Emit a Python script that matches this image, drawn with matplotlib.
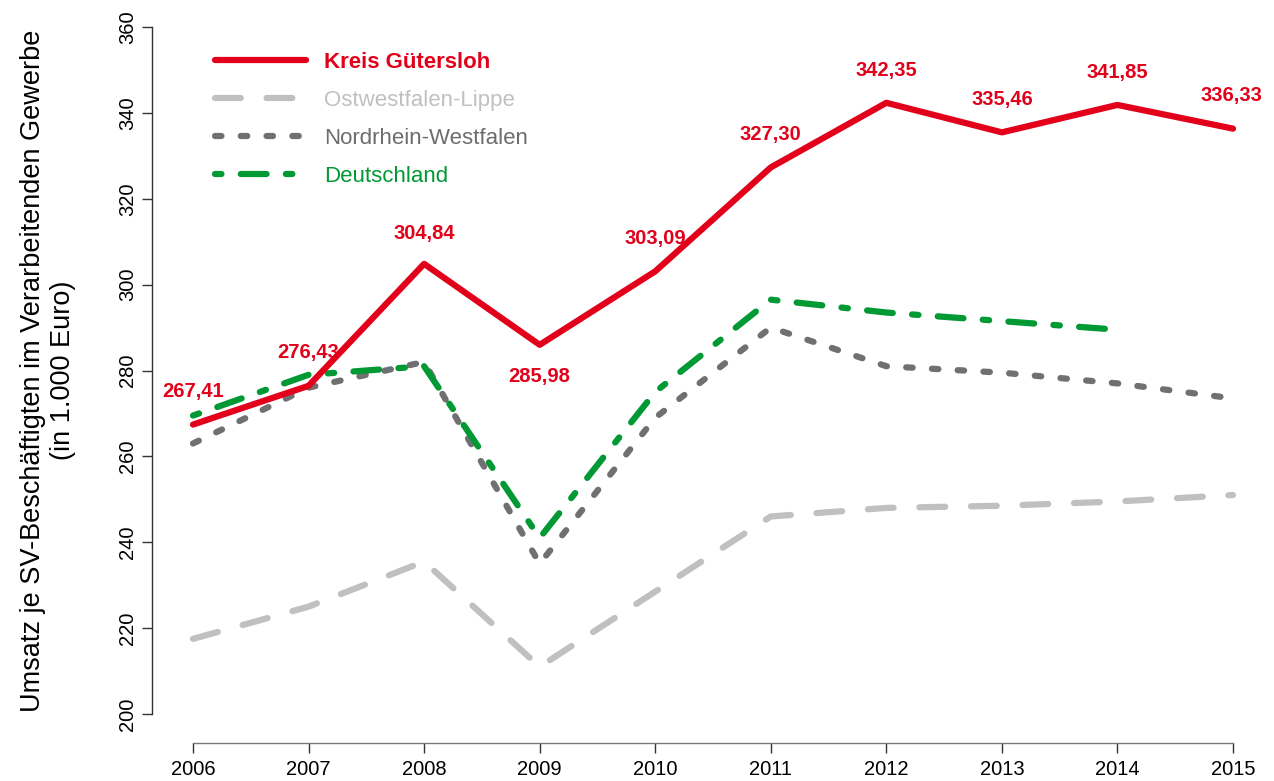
import matplotlib
matplotlib.use("Agg")
import matplotlib.pyplot as plt

plt.rcParams['font.family'] = ['Liberation Sans', 'DejaVu Sans']
plt.rcParams['lines.scale_dashes'] = False

years = [2006, 2007, 2008, 2009, 2010, 2011, 2012, 2013, 2014, 2015]
kreis_guetersloh = [267.41, 276.43, 304.84, 285.98, 303.09, 327.30, 342.35, 335.46, 341.85, 336.33]
ostwestfalen_lippe = [217.5, 225.0, 235.5, 211.0, 228.5, 246.0, 248.0, 248.5, 249.5, 251.0]
nordrhein_westfalen = [263.0, 276.0, 282.0, 235.0, 269.0, 290.0, 281.0, 279.5, 277.0, 273.5]
de_years = [2006, 2007, 2008, 2009, 2010, 2011, 2012, 2013, 2014]
deutschland = [269.5, 279.0, 281.0, 241.0, 275.0, 296.5, 293.5, 291.5, 289.5]
label_texts = ["267,41", "276,43", "304,84", "285,98", "303,09", "327,30", "342,35", "335,46", "341,85", "336,33"]
yticks = [200, 220, 240, 260, 280, 300, 320, 340, 360]

RED = "#E2001A"
LGREY = "#C0C0C0"
DGREY = "#707070"
GREEN = "#009933"

W, H = 1274, 781
fig = plt.figure(figsize=(W / 100, H / 100), dpi=100)
x0, x1 = 193, 1233
y0, y1 = 714, 27
ax = fig.add_axes([x0 / W, (H - y0) / H, (x1 - x0) / W, (y0 - y1) / H])
ax.set_xlim(2006, 2015)
ax.set_ylim(200, 360)

lw = 4.5
u = 4.64
l1, = ax.plot(years, kreis_guetersloh, color=RED, lw=lw, solid_capstyle='round',
              solid_joinstyle='round', clip_on=False, zorder=5)
l2, = ax.plot(years, ostwestfalen_lippe, color=LGREY, lw=lw, dashes=(4 * u, 4 * u),
              dash_capstyle='round', clip_on=False)
l3, = ax.plot(years, nordrhein_westfalen, color=DGREY, lw=lw, dashes=(u, 3 * u),
              dash_capstyle='round', clip_on=False)
l4, = ax.plot(de_years, deutschland, color=GREEN, lw=lw, dashes=(u, 3 * u, 4 * u, 3 * u),
              dash_capstyle='round', clip_on=False)

# value labels
offsets = [(0, 24), (0, 24), (0, 22), (0, -23), (0, 24), (0, 24), (0, 23), (0, 24), (0, 23), (-1, 24)]
for x, y, t, (dx, dy) in zip(years, kreis_guetersloh, label_texts, offsets):
    ax.annotate(t, (x, y), xytext=(dx, dy), textcoords='offset points', ha='center',
                va='center', color=RED, fontsize=14.5, fontweight='bold', annotation_clip=False)

for s in ['top', 'right']:
    ax.spines[s].set_visible(False)
ax.spines['left'].set_position(('outward', 41 * 0.72))
ax.spines['bottom'].set_position(('outward', 29 * 0.72))
ax.spines['left'].set_bounds(200, 360)
ax.spines['bottom'].set_bounds(2006, 2015)
ax.spines['left'].set_color('#333333')
ax.spines['bottom'].set_color('#777777')
ax.spines['left'].set_linewidth(1.0)
ax.spines['bottom'].set_linewidth(1.0)

ax.set_xticks(years)
ax.set_xticklabels([str(y) for y in years])
ax.set_yticks(yticks)
ax.set_yticklabels([str(y) for y in yticks], rotation=90, va='center')
ax.tick_params(axis='both', labelsize=14.5, length=7, width=1.0, color='#333333', pad=4)
ax.tick_params(axis='x', pad=5)

ax.set_ylabel("Umsatz je SV-Beschäftigten im Verarbeitenden Gewerbe\n(in 1.000 Euro)",
              fontsize=19.5, linespacing=1.22)
ax.yaxis.set_label_coords(-(193 - 76) / (x1 - x0), 0.5)

leg = ax.legend([l1, l2, l3, l4], ["Kreis Gütersloh", "Ostwestfalen-Lippe", "Nordrhein-Westfalen", "Deutschland"],
                loc='upper left', bbox_to_anchor=((206 - x0) / (x1 - x0), 1 - (43 - y1) / (y0 - y1)),
                frameon=False, fontsize=16, handlelength=4.1, handletextpad=0.83, labelspacing=0.77,
                borderaxespad=0)
for txt, c in zip(leg.get_texts(), [RED, LGREY, "#6D6D6D", GREEN]):
    txt.set_color(c)
leg.get_texts()[0].set_fontweight('bold')

fig.savefig("out.png", dpi=100, facecolor='white')
